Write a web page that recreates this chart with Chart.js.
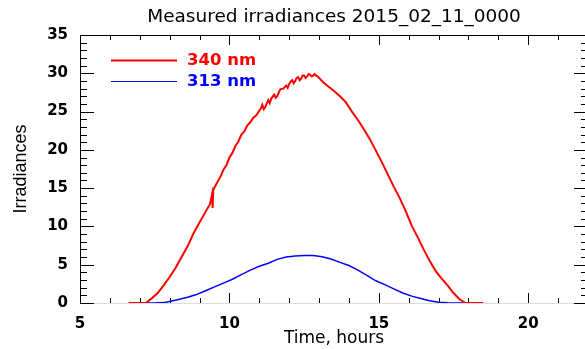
<!DOCTYPE html>
<html><head><meta charset="utf-8">
<script src="https://cdn.jsdelivr.net/npm/chart.js@4.4.1/dist/chart.umd.min.js"></script>
<style>
html,body{margin:0;padding:0;background:#fff;overflow:hidden;width:585px;height:349px;}
#wrap{position:absolute;left:0;top:0;width:600px;height:349px;}
canvas{display:block;}
</style></head><body>
<div id="wrap"><canvas id="c" width="600" height="349"></canvas></div>
<script>
const chartTitle = 'Measured irradiances 2015_02_11_0000';
const xTitle = 'Time, hours';
const yTitle = 'Irradiances';
const seriesNames = ['340 nm', '313 nm'];
const seriesColors = ['#ff0000', '#0000ff'];

const hours340 = [6.63, 7.0, 7.2, 7.4, 7.6, 7.8, 8.0, 8.2, 8.4, 8.6, 8.8, 9.0, 9.2, 9.35, 9.42, 9.44, 9.46,
  9.6, 9.7, 9.8, 9.9, 10.0, 10.1, 10.2, 10.3, 10.4, 10.5, 10.6, 10.7, 10.8, 10.9, 11.0, 11.05, 11.1, 11.15, 11.2,
  11.3, 11.35, 11.4, 11.5, 11.55, 11.6, 11.7, 11.8, 11.9, 11.95, 12.0, 12.05, 12.1, 12.15, 12.2, 12.25, 12.3, 12.35,
  12.4, 12.45, 12.5, 12.55, 12.6, 12.65, 12.7, 12.75, 12.8, 12.85, 12.9, 12.95, 13.0,
  13.15, 13.3, 13.5, 13.7, 13.9, 14.1, 14.3, 14.5, 14.7, 14.9, 15.1, 15.3, 15.5, 15.7, 15.9, 16.1, 16.3,
  16.5, 16.7, 16.9, 17.1, 17.3, 17.5, 17.7, 17.9, 18.45];
const irr340 = [0, 0, 0, 0.6, 1.3, 2.3, 3.4, 4.6, 6.0, 7.4, 9.1, 10.5, 11.9, 12.9, 14.2, 12.4, 14.8,
  15.8, 16.5, 17.4, 18.0, 19.0, 19.6, 20.5, 21.1, 22.0, 22.4, 23.2, 23.6, 24.2, 24.5, 25.1, 25.4, 25.9, 25.3, 25.6,
  26.5, 26.1, 26.7, 27.2, 26.8, 27.0, 27.9, 28.0, 28.4, 28.1, 28.6, 28.9, 29.1, 28.7, 29.0, 29.4, 29.5, 29.1,
  29.3, 29.7, 29.7, 29.4, 29.6, 29.9, 29.8, 29.6, 29.7, 29.9, 29.7, 29.6, 29.4,
  28.8, 28.3, 27.7, 27.0, 26.2, 25.0, 23.9, 22.7, 21.4, 19.9, 18.4, 16.8, 15.2, 13.7, 12.0, 10.1, 8.6,
  7.0, 5.5, 4.2, 3.2, 2.3, 1.3, 0.5, 0, 0];

const hours313 = [6.63, 7.5, 7.8, 8.0, 8.3, 8.6, 8.9, 9.2, 9.5, 9.8, 10.1, 10.4, 10.7, 11.0, 11.3, 11.6, 11.9, 12.2, 12.5, 12.8,
  13.1, 13.4, 13.7, 14.0, 14.3, 14.6, 14.9, 15.2, 15.5, 15.8, 16.1, 16.4, 16.7, 17.0, 17.3, 17.6, 18.5];
const irr313 = [0, 0, 0.05, 0.2, 0.45, 0.75, 1.1, 1.6, 2.1, 2.6, 3.1, 3.7, 4.3, 4.8, 5.2, 5.7, 6.0, 6.15, 6.2, 6.2,
  6.05, 5.75, 5.3, 4.9, 4.3, 3.6, 2.9, 2.4, 1.85, 1.3, 0.9, 0.6, 0.3, 0.1, 0.03, 0, 0];

const xRange = [5, 22];
const yRange = [0, 35];
const xTickLabels = [5, 10, 15, 20];
const yTickLabels = [0, 5, 10, 15, 20, 25, 30, 35];

const toXY = (xs, ys) => xs.map((x, i) => ({x: x, y: ys[i]}));

const framePlugin = {
  id: 'frame',
  beforeDatasetsDraw(chart) {
    const ctx = chart.ctx, a = chart.chartArea;
    const xs = chart.scales.x, ys = chart.scales.y;
    ctx.save();
    ctx.strokeStyle = '#000';
    ctx.lineWidth = 1;
    ctx.beginPath();
    ctx.moveTo(a.left + 0.5, a.bottom);
    ctx.lineTo(a.left + 0.5, a.top + 0.5);
    ctx.lineTo(a.right + 0.5, a.top + 0.5);
    ctx.lineTo(a.right + 0.5, a.bottom);
    ctx.stroke();
    ctx.strokeStyle = '#dcdcdc';
    ctx.beginPath();
    ctx.moveTo(a.left, a.bottom + 0.5);
    ctx.lineTo(a.right, a.bottom + 0.5);
    ctx.stroke();
    ctx.strokeStyle = '#000';
    ctx.beginPath();
    for (let h = xRange[0]; h <= xRange[1]; h++) {
      const px = Math.round(xs.getPixelForValue(h)) + 0.5;
      const len = (h % 5 === 0) ? 10 : 5;
      ctx.moveTo(px, a.bottom); ctx.lineTo(px, a.bottom - len);
      ctx.moveTo(px, a.top); ctx.lineTo(px, a.top + len);
    }
    for (let v = yRange[0]; v <= yRange[1]; v++) {
      const py = Math.round(ys.getPixelForValue(v)) + 0.5;
      const len = (v % 5 === 0) ? 14 : 7;
      ctx.moveTo(a.left, py); ctx.lineTo(a.left + len, py);
      ctx.moveTo(a.right, py); ctx.lineTo(a.right - len, py);
    }
    ctx.stroke();
    ctx.restore();
  },
  afterDraw(chart) {
    const ctx = chart.ctx, a = chart.chartArea;
    ctx.save();
    ctx.fillStyle = '#000';
    ctx.font = '18.5px "DejaVu Sans"';
    ctx.textAlign = 'center';
    ctx.textBaseline = 'middle';
    ctx.fillText(chartTitle, (a.left + a.right) / 2, 17.5);
    chart.data.datasets.forEach((ds, i) => {
      const y = a.top + 25.5 + i * 21;
      ctx.strokeStyle = ds.borderColor;
      ctx.lineWidth = i === 0 ? 1.8 : 1.2;
      ctx.beginPath();
      ctx.moveTo(a.left + 31, y);
      ctx.lineTo(a.left + 97, y);
      ctx.stroke();
      ctx.fillStyle = ds.borderColor;
      ctx.font = 'bold 16.5px "DejaVu Sans"';
      ctx.textAlign = 'left';
      ctx.textBaseline = 'middle';
      ctx.fillText(ds.label, a.left + 107, y);
    });
    ctx.restore();
  }
};

const tickFont = {family: 'DejaVu Sans', size: 15, weight: 'bold'};

new Chart(document.getElementById('c'), {
  type: 'line',
  data: {
    datasets: [
      {label: seriesNames[0], data: toXY(hours340, irr340), borderColor: seriesColors[0], borderWidth: 2, pointRadius: 0, fill: false, tension: 0},
      {label: seriesNames[1], data: toXY(hours313, irr313), borderColor: seriesColors[1], borderWidth: 1.5, pointRadius: 0, fill: false, tension: 0}
    ]
  },
  options: {
    responsive: false,
    animation: false,
    devicePixelRatio: 1,
    layout: {padding: {top: 35, right: 12, left: 0, bottom: 0}},
    plugins: {legend: {display: false}, title: {display: false}, tooltip: {enabled: false}},
    scales: {
      x: {
        type: 'linear', position: 'bottom', min: xRange[0], max: xRange[1],
        afterBuildTicks: s => { s.ticks = xTickLabels.map(v => ({value: v})); },
        afterFit: s => { s.height = 46; },
        grid: {display: false, drawTicks: false, tickLength: 0},
        border: {display: false},
        ticks: {font: tickFont, color: '#000', padding: 12, maxRotation: 0, autoSkip: false},
        title: {display: true, text: xTitle, color: '#000', font: {family: 'DejaVu Sans', size: 17}, padding: {top: 0, bottom: 0}}
      },
      y: {
        type: 'linear', position: 'left', min: yRange[0], max: yRange[1],
        afterBuildTicks: s => { s.ticks = yTickLabels.map(v => ({value: v})); },
        afterFit: s => { s.width = 80; },
        grid: {display: false, drawTicks: false, tickLength: 0},
        border: {display: false},
        ticks: {font: tickFont, color: '#000', padding: 12, autoSkip: false},
        title: {display: true, text: yTitle, color: '#000', font: {family: 'Liberation Sans', size: 18}, padding: {top: 10, bottom: 0}}
      }
    }
  },
  plugins: [framePlugin]
});
</script>
</body></html>
